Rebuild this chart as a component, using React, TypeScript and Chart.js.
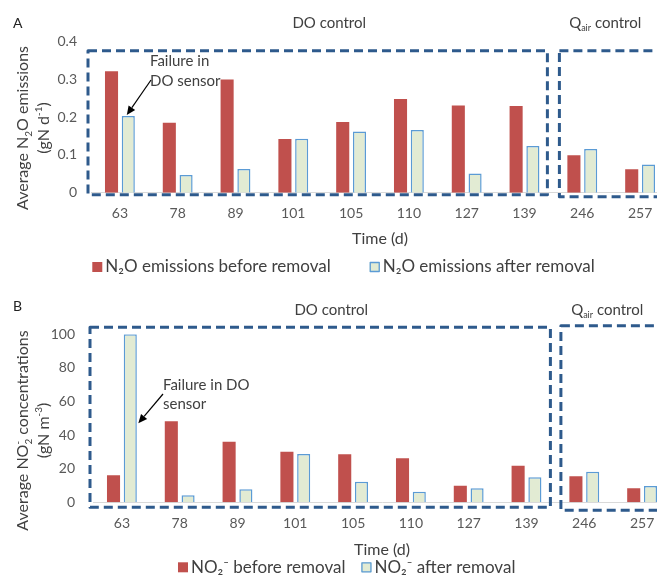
import React, { useEffect, useRef } from 'react';
import { Chart, registerables } from 'chart.js';

Chart.register(...registerables);

// ---------------- data ----------------
const timeLabels = ['63', '78', '89', '101', '105', '110', '127', '139', '246', '257'];
const n2oBefore = [0.322, 0.185, 0.3, 0.142, 0.187, 0.248, 0.231, 0.23, 0.099, 0.062];
const n2oAfter = [0.203, 0.047, 0.063, 0.143, 0.162, 0.166, 0.051, 0.124, 0.116, 0.075];
const no2Before = [16.1, 48.2, 36.1, 30.1, 28.6, 26.2, 9.9, 21.8, 15.5, 8.3];
const no2After = [100, 4.2, 7.7, 28.8, 12.3, 6.3, 8.3, 14.9, 18.2, 9.7];
const n2oTicks = [0, 0.1, 0.2, 0.3, 0.4];
const no2Ticks = [0, 20, 40, 60, 80, 100];
const doControlCount = 8; // first 8 sampling days under DO control, rest under Qair control

// ---------------- styles ----------------
const FONT = 'Lato, "DejaVu Sans", sans-serif';
const RED = '#C0504D';
const GREEN = '#E2EBD3';
const BLUE_EDGE = '#5B9BD5';
const DASH = '#2E5A8C';
const TICK_COLOR = '#595959';
const TEXT_COLOR = '#404040';
const CANVAS_W = 700;

type Seg = { t: string; sub?: boolean; sup?: boolean; supOver?: string };

function richWidth(ctx: CanvasRenderingContext2D, segs: Seg[], size: number) {
  let w = 0;
  for (const s of segs) {
    ctx.font = `${s.sub || s.sup ? Math.round(size * 0.62) : size}px ${FONT}`;
    w += ctx.measureText(s.t).width;
  }
  return w;
}

function drawRich(
  ctx: CanvasRenderingContext2D,
  segs: Seg[],
  x: number,
  y: number,
  size: number,
  align: 'left' | 'center',
  color: string
) {
  const total = richWidth(ctx, segs, size);
  let cx = align === 'center' ? x - total / 2 : x;
  ctx.fillStyle = color;
  ctx.textAlign = 'left';
  ctx.textBaseline = 'alphabetic';
  for (const s of segs) {
    const small = s.sub || s.sup;
    ctx.font = `${small ? Math.round(size * 0.62) : size}px ${FONT}`;
    const dy = s.sub ? size * 0.22 : s.sup ? -size * 0.42 : 0;
    ctx.fillText(s.t, cx, y + dy);
    if (s.supOver) ctx.fillText(s.supOver, cx, y - size * 0.42);
    cx += ctx.measureText(s.t).width;
  }
}

interface PanelSpec {
  height: number;
  letter: string;
  data1: number[];
  data2: number[];
  ticks: number[];
  legend1: string;
  legend2: string;
  yTitle1: Seg[];
  yTitle2: Seg[];
  padTop: number;
  yWidth: number;
  yTickPad: number;
  padRight: number;
  xHeight: number;
  tickPad: number;
  letterY: number;
  groupY: number;
  yTitleCY: number;
  timeY: number;
  legendY: number;
  legendGap: number;
  legendCX: number;
  box1: { dl: number; dt: number; dr: number; db: number };
  box2: { dl: number; dt: number; db: number };
  note: string[];
  noteX: number;
  noteY: number[];
  arrowFrom: [number, number];
  arrowTip: (bar: any, y: any) => [number, number];
}

function drawArrow(ctx: CanvasRenderingContext2D, x1: number, y1: number, x2: number, y2: number) {
  const ang = Math.atan2(y2 - y1, x2 - x1);
  const head = 9;
  const hw = 4;
  const bx = x2 - head * Math.cos(ang);
  const by = y2 - head * Math.sin(ang);
  ctx.strokeStyle = '#000';
  ctx.fillStyle = '#000';
  ctx.lineWidth = 1.2;
  ctx.beginPath();
  ctx.moveTo(x1, y1);
  ctx.lineTo(bx, by);
  ctx.stroke();
  ctx.beginPath();
  ctx.moveTo(x2, y2);
  ctx.lineTo(bx + hw * Math.sin(ang), by - hw * Math.cos(ang));
  ctx.lineTo(bx - hw * Math.sin(ang), by + hw * Math.cos(ang));
  ctx.closePath();
  ctx.fill();
}

function makeDecor(p: PanelSpec) {
  return {
    id: 'decor' + p.letter,
    afterDraw(chart: any) {
      const ctx: CanvasRenderingContext2D = chart.ctx;
      const area = chart.chartArea;
      const xs = chart.scales.x;
      const ys = chart.scales.y;
      ctx.save();

      // panel letter
      drawRich(ctx, [{ t: p.letter }], 13, p.letterY, 14, 'left', '#222');

      // group captions
      const doCenter = (xs.getPixelForValue(0) + xs.getPixelForValue(doControlCount - 1)) / 2;
      const qCenter =
        (xs.getPixelForValue(doControlCount) + xs.getPixelForValue(timeLabels.length - 1)) / 2 - 6;
      drawRich(ctx, [{ t: 'DO control' }], doCenter + 7, p.groupY, 15, 'center', TEXT_COLOR);
      drawRich(ctx, [{ t: 'Q' }, { t: 'air', sub: true }, { t: ' control' }], qCenter, p.groupY, 15, 'center', TEXT_COLOR);

      // y title (rotated, two lines)
      ctx.save();
      ctx.translate(22, p.yTitleCY);
      ctx.rotate(-Math.PI / 2);
      drawRich(ctx, p.yTitle1, 0, 6, 16, 'center', TEXT_COLOR);
      drawRich(ctx, p.yTitle2, 0, 27, 16, 'center', TEXT_COLOR);
      ctx.restore();

      // x title
      drawRich(ctx, [{ t: 'Time (d)' }], (area.left + area.right) / 2, p.timeY + 5, 16, 'center', TEXT_COLOR);

      // dashed boxes
      const split = (xs.getPixelForValue(doControlCount - 1) + xs.getPixelForValue(doControlCount)) / 2;
      ctx.strokeStyle = DASH;
      ctx.lineWidth = 3;
      ctx.setLineDash([9, 5]);
      ctx.lineJoin = 'round';
      ctx.strokeRect(
        area.left + p.box1.dl,
        area.top + p.box1.dt,
        split + p.box1.dr - (area.left + p.box1.dl),
        area.bottom + p.box1.db - (area.top + p.box1.dt)
      );
      ctx.strokeRect(
        split + p.box2.dl,
        area.top + p.box2.dt,
        chart.width + 20 - (split + p.box2.dl),
        area.bottom + p.box2.db - (area.top + p.box2.dt)
      );
      ctx.setLineDash([]);

      // annotation
      p.note.forEach((line, i) => drawRich(ctx, [{ t: line }], p.noteX, p.noteY[i], 15, 'left', TEXT_COLOR));
      const bar = chart.getDatasetMeta(1).data[0];
      const [tx, ty] = p.arrowTip(bar, ys);
      drawArrow(ctx, p.arrowFrom[0], p.arrowFrom[1], tx, ty);

      // legend
      const size = 17;
      ctx.font = `${size}px ${FONT}`;
      const w1 = ctx.measureText(p.legend1).width;
      const w2 = ctx.measureText(p.legend2).width;
      const box = 10;
      const total = box + 3 + w1 + p.legendGap + box + 3 + w2;
      let lx = p.legendCX - total / 2;
      const ly = p.legendY;
      ctx.fillStyle = RED;
      ctx.fillRect(lx, ly - box / 2, box, box);
      ctx.fillStyle = TEXT_COLOR;
      ctx.textBaseline = 'middle';
      ctx.textAlign = 'left';
      ctx.fillText(p.legend1, lx + box + 3, ly);
      lx += box + 3 + w1 + p.legendGap;
      ctx.fillStyle = GREEN;
      ctx.fillRect(lx, ly - box / 2, box, box);
      ctx.strokeStyle = BLUE_EDGE;
      ctx.lineWidth = 1.3;
      ctx.strokeRect(lx + 0.5, ly - box / 2 + 0.5, box - 1, box - 1);
      ctx.fillStyle = TEXT_COLOR;
      ctx.fillText(p.legend2, lx + box + 3, ly);

      ctx.restore();
    },
  };
}

function makeConfig(p: PanelSpec): any {
  return {
    type: 'bar',
    data: {
      labels: timeLabels,
      datasets: [
        {
          label: p.legend1,
          data: p.data1,
          backgroundColor: RED,
          borderWidth: 0,
          categoryPercentage: 0.58,
          barPercentage: 0.78,
        },
        {
          label: p.legend2,
          data: p.data2,
          backgroundColor: GREEN,
          borderColor: BLUE_EDGE,
          borderWidth: 1.5,
          categoryPercentage: 0.58,
          barPercentage: 0.78,
        },
      ],
    },
    options: {
      responsive: false,
      animation: false,
      devicePixelRatio: 1,
      layout: { padding: { top: p.padTop, left: 0, right: p.padRight, bottom: 0 } },
      plugins: { legend: { display: false }, tooltip: { enabled: false }, title: { display: false } },
      scales: {
        x: {
          grid: { display: false, drawTicks: false },
          border: { display: true, color: '#D9D9D9', width: 1 },
          ticks: { color: TICK_COLOR, font: { size: 14, family: FONT }, padding: p.tickPad, maxRotation: 0, autoSkip: false },
          afterFit: (s: any) => {
            s.height = p.xHeight;
          },
        },
        y: {
          min: 0,
          max: p.ticks[p.ticks.length - 1],
          grid: { display: false, drawTicks: false },
          border: { display: false },
          ticks: { color: TICK_COLOR, font: { size: 14, family: FONT }, padding: p.yTickPad },
          afterBuildTicks: (s: any) => {
            s.ticks = p.ticks.map((v) => ({ value: v }));
          },
          afterFit: (s: any) => {
            s.width = p.yWidth;
          },
        },
      },
    },
    plugins: [makeDecor(p)],
  };
}

const panelA: PanelSpec = {
  height: 290,
  letter: 'A',
  data1: n2oBefore,
  data2: n2oAfter,
  ticks: n2oTicks,
  legend1: 'N₂O emissions before removal',
  legend2: 'N₂O emissions after removal',
  yTitle1: [{ t: 'Average N' }, { t: '2', sub: true }, { t: 'O emissions' }],
  yTitle2: [{ t: '(gN d' }, { t: '-1', sup: true }, { t: ')' }],
  padTop: 41.7,
  yWidth: 91,
  yTickPad: 14,
  padRight: 31,
  xHeight: 97.3,
  tickPad: 12,
  letterY: 28,
  groupY: 28,
  yTitleCY: 128,
  timeY: 239,
  legendY: 267,
  legendGap: 39,
  legendCX: 343.5,
  box1: { dl: -3, dt: 9, dr: -6, db: 2 },
  box2: { dl: 6, dt: 9, db: 4 },
  note: ['Failure in', 'DO sensor'],
  noteX: 150,
  noteY: [66, 86],
  arrowFrom: [151, 80],
  arrowTip: (bar: any) => [bar.x - 1.5, bar.y - 1],
};

const panelB: PanelSpec = {
  height: 285,
  letter: 'B',
  data1: no2Before,
  data2: no2After,
  ticks: no2Ticks,
  legend1: 'NO₂⁻ before removal',
  legend2: 'NO₂⁻ after removal',
  yTitle1: [{ t: 'Average NO' }, { t: '2', sub: true, supOver: '-' }, { t: ' concentrations' }],
  yTitle2: [{ t: '(gN m' }, { t: '-3', sup: true }, { t: ')' }],
  padTop: 44.3,
  yWidth: 93,
  yTickPad: 18,
  padRight: 29,
  xHeight: 72.7,
  tickPad: 12.5,
  letterY: 21,
  groupY: 25,
  yTitleCY: 140.5,
  timeY: 260,
  legendY: 277.3,
  legendGap: 16,
  legendCX: 346.7,
  box1: { dl: -3, dt: -7, dr: -5, db: 5 },
  box2: { dl: 5.5, dt: -8.6, db: 8 },
  note: ['Failure in DO', 'sensor'],
  noteX: 163,
  noteY: [100, 119],
  arrowFrom: [163, 104],
  arrowTip: (bar: any, ys: any) => [bar.x + bar.width / 2 + 1.5, ys.getPixelForValue(47)],
};

function Panel({ spec, top }: { spec: PanelSpec; top: number }) {
  const ref = useRef<HTMLCanvasElement | null>(null);
  useEffect(() => {
    if (!ref.current) return;
    const chart = new Chart(ref.current, makeConfig(spec));
    return () => chart.destroy();
  }, [spec]);
  return (
    <div style={{ position: 'absolute', left: 0, top, width: CANVAS_W, height: spec.height }}>
      <canvas
        ref={ref}
        width={CANVAS_W}
        height={spec.height}
        style={{ width: CANVAS_W, height: spec.height, display: 'block' }}
      />
    </div>
  );
}

export default function App() {
  return (
    <div
      style={{
        position: 'fixed',
        left: 0,
        top: 0,
        width: CANVAS_W,
        height: 575,
        overflow: 'hidden',
        background: '#fff',
      }}
    >
      <Panel spec={panelA} top={0} />
      <Panel spec={panelB} top={290} />
    </div>
  );
}
